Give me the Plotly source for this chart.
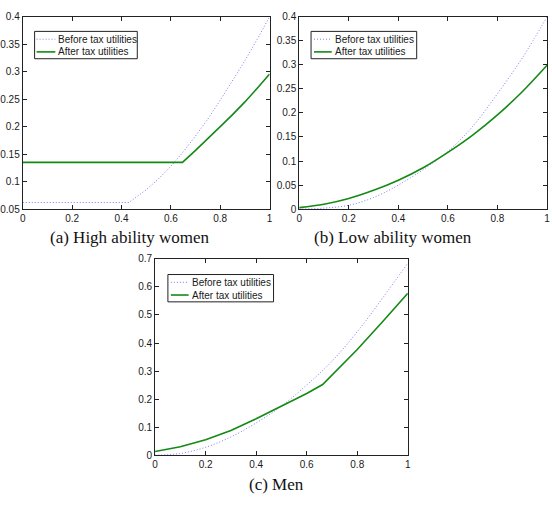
import plotly.graph_objects as go

# ---------------- data ----------------
# (a) High ability women
a_x_before = [0, 0.1, 0.2, 0.3, 0.43, 0.5, 0.55, 0.6, 0.65, 0.7, 0.75, 0.8, 0.85, 0.9, 0.95, 1.0]
a_before = [0.062, 0.062, 0.062, 0.062, 0.062, 0.085, 0.105, 0.128, 0.154, 0.183, 0.214, 0.248, 0.283, 0.32, 0.359, 0.4]
a_x_after = [0, 0.2, 0.4, 0.6, 0.647, 0.7, 0.75, 0.8, 0.85, 0.9, 0.95, 1.0]
a_after = [0.135, 0.135, 0.135, 0.135, 0.135, 0.157, 0.178, 0.2, 0.222, 0.245, 0.27, 0.296]

# (b) Low ability women
b_x = [0, 0.1, 0.2, 0.3, 0.4, 0.5, 0.6, 0.7, 0.8, 0.9, 1.0]
b_before = [0.0, 0.002, 0.008, 0.024, 0.05, 0.082, 0.12, 0.172, 0.24, 0.314, 0.4]
b_after = [0.003, 0.01, 0.022, 0.039, 0.06, 0.086, 0.118, 0.154, 0.196, 0.244, 0.299]

# (c) Men
c_x_before = [0, 0.1, 0.2, 0.3, 0.4, 0.5, 0.6, 0.7, 0.8, 0.9, 1.0]
c_before = [0.0, 0.006, 0.028, 0.065, 0.115, 0.175, 0.25, 0.335, 0.44, 0.56, 0.685]
c_x_after = [0, 0.1, 0.2, 0.3, 0.4, 0.5, 0.6, 0.663, 0.7, 0.8, 0.9, 1.0]
c_after = [0.013, 0.03, 0.055, 0.088, 0.13, 0.175, 0.22, 0.252, 0.285, 0.377, 0.476, 0.577]

x_ticks = [0, 0.2, 0.4, 0.6, 0.8, 1.0]
x_tick_labels = ["0", "0.2", "0.4", "0.6", "0.8", "1"]
a_y_ticks = [0.05, 0.1, 0.15, 0.2, 0.25, 0.3, 0.35, 0.4]
a_y_labels = ["0.05", "0.1", "0.15", "0.2", "0.25", "0.3", "0.35", "0.4"]
b_y_ticks = [0, 0.05, 0.1, 0.15, 0.2, 0.25, 0.3, 0.35, 0.4]
b_y_labels = ["0", "0.05", "0.1", "0.15", "0.2", "0.25", "0.3", "0.35", "0.4"]
c_y_ticks = [0, 0.1, 0.2, 0.3, 0.4, 0.5, 0.6, 0.7]
c_y_labels = ["0", "0.1", "0.2", "0.3", "0.4", "0.5", "0.6", "0.7"]

names = ["Before tax utilities", "After tax utilities"]
captions = ["(a) High ability women", "(b) Low ability women", "(c) Men"]

# ---------------- styling ----------------
W, H = 552, 509
BEFORE_COLOR = "#7a7af5"
AFTER_COLOR = "#138a13"
BEFORE_DASH = "1px,2px"
TEXT_COLOR = "#1a1a1a"
SANS = "Liberation Sans, Arial, sans-serif"
TICK_FONT = dict(family=SANS, size=10, color=TEXT_COLOR)


def px_x(v):
    return v / W


def px_y(v):
    return 1 - v / H


fig = go.Figure()

# (xaxis, yaxis, before x, before y, before shape, after x, after y, after shape)
panels = [
    ("x", "y", a_x_before, a_before, "linear", a_x_after, a_after, "linear"),
    ("x2", "y2", b_x, b_before, "spline", b_x, b_after, "spline"),
    ("x3", "y3", c_x_before, c_before, "spline", c_x_after, c_after, "linear"),
]

for xa, ya, xb, yb, sb, xaf, yaf, saf in panels:
    fig.add_trace(go.Scatter(x=xb, y=yb, mode="lines", name=names[0], xaxis=xa, yaxis=ya,
                             showlegend=False,
                             line=dict(color=BEFORE_COLOR, width=1, dash=BEFORE_DASH, shape=sb)))
    fig.add_trace(go.Scatter(x=xaf, y=yaf, mode="lines", name=names[1], xaxis=xa, yaxis=ya,
                             showlegend=False,
                             line=dict(color=AFTER_COLOR, width=1.6, shape=saf)))

axis_common = dict(showline=True, linecolor="#222222", linewidth=1, mirror="ticks",
                   ticks="inside", ticklen=4, tickcolor="#222222", showgrid=False,
                   zeroline=False, tickfont=TICK_FONT)

# pixel boxes: (left, right, top, bottom)
box_a = (19, 269, 11, 208)
box_b = (299, 550, 11, 208)
box_c = (153, 409, 259, 460)


def dom(box):
    l, r, t, b = box
    return [px_x(l), px_x(r)], [px_y(b), px_y(t)]


da = dom(box_a)
db = dom(box_b)
dc = dom(box_c)

fig.update_layout(
    xaxis=dict(domain=da[0], anchor="y", range=[0, 1], tickvals=x_ticks, ticktext=x_tick_labels, **axis_common),
    yaxis=dict(domain=da[1], anchor="x", range=[0.05, 0.4], tickvals=a_y_ticks, ticktext=a_y_labels, **axis_common),
    xaxis2=dict(domain=db[0], anchor="y2", range=[0, 1], tickvals=x_ticks, ticktext=x_tick_labels, **axis_common),
    yaxis2=dict(domain=db[1], anchor="x2", range=[0, 0.4], tickvals=b_y_ticks, ticktext=b_y_labels, **axis_common),
    xaxis3=dict(domain=dc[0], anchor="y3", range=[0, 1], tickvals=x_ticks, ticktext=x_tick_labels, **axis_common),
    yaxis3=dict(domain=dc[1], anchor="x3", range=[0, 0.7], tickvals=c_y_ticks, ticktext=c_y_labels, **axis_common),
)

# legend boxes (MATLAB-style, compact): (left, right, top, bottom, sample_x0, sample_x1, row1_y, row2_y)
legend_boxes = [
    (31, 135, 26, 54, 33, 52, 34, 47),
    (311, 418, 26, 54, 314, 332, 34, 47),
    (166, 273, 275, 303, 169, 187, 283, 296),
]
shapes = []
for l, r, t, b, s0, s1, r1, r2 in legend_boxes:
    shapes.append(dict(type="rect", xref="paper", yref="paper", x0=px_x(l), x1=px_x(r),
                       y0=px_y(b), y1=px_y(t), fillcolor="white",
                       line=dict(color="#222222", width=1), layer="above"))
    shapes.append(dict(type="line", xref="paper", yref="paper", x0=px_x(s0), x1=px_x(s1),
                       y0=px_y(r1), y1=px_y(r1), layer="above",
                       line=dict(color=BEFORE_COLOR, width=1, dash=BEFORE_DASH)))
    shapes.append(dict(type="line", xref="paper", yref="paper", x0=px_x(s0), x1=px_x(s1),
                       y0=px_y(r2), y1=px_y(r2), layer="above",
                       line=dict(color=AFTER_COLOR, width=1.6)))
    for name, ry in zip(names, (r1, r2)):
        fig.add_annotation(text=name, x=px_x(s1 + 1), y=px_y(ry), xref="paper", yref="paper",
                           showarrow=False, xanchor="left", yanchor="middle",
                           font=dict(family=SANS, size=10, color=TEXT_COLOR))
fig.update_layout(shapes=shapes)

cap_font = dict(family="Liberation Serif, Times New Roman, serif", size=17, color="#111111")
for text, cx, cy in [(captions[0], 128, 237), (captions[1], 394, 237), (captions[2], 276, 490)]:
    fig.add_annotation(text=text, x=px_x(cx), y=px_y(cy), xref="paper", yref="paper",
                       showarrow=False, xanchor="center", yanchor="middle", font=cap_font)

fig.update_layout(width=W, height=H, margin=dict(l=0, r=0, t=0, b=0),
                  paper_bgcolor="white", plot_bgcolor="white", showlegend=False)

fig.write_html("out.html", config={"displayModeBar": False},
               post_script="document.body.style.margin='0';document.body.style.padding='0';")
